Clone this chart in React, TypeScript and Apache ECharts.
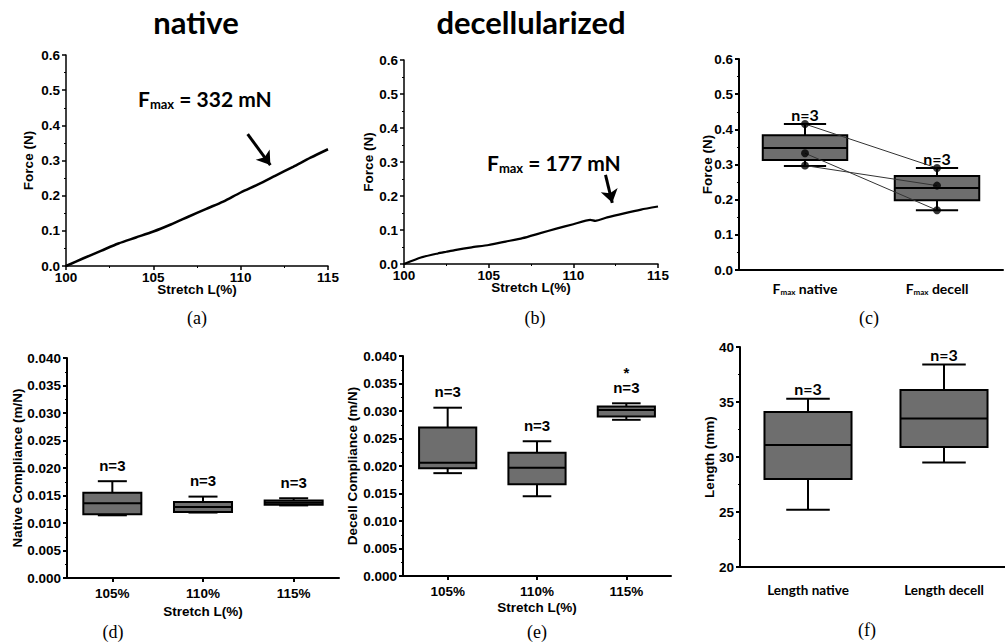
import React, { useEffect, useRef } from 'react';
import * as echarts from 'echarts';

// ---------- data ----------
const stretchA = [100, 101, 102, 103, 104, 105, 106, 107, 108, 109, 110, 111, 112, 113, 114, 115];
const forceA = [0.0, 0.022, 0.043, 0.064, 0.081, 0.098, 0.118, 0.140, 0.162, 0.183, 0.209, 0.232, 0.257, 0.282, 0.308, 0.332];
const stretchB = [100, 101, 102, 102.5, 103, 104, 105, 106, 107, 108, 109, 110, 111, 111.3, 112, 113, 114, 115];
const forceB = [0.0, 0.019, 0.031, 0.036, 0.041, 0.049, 0.056, 0.066, 0.076, 0.090, 0.104, 0.117, 0.130, 0.127, 0.137, 0.149, 0.160, 0.169];
const arrowA = [[110.4, 0.375], [111.7, 0.287]];
const arrowB = [[111.9, 0.262], [112.3, 0.180]];
const fmaxTextA = '332 mN';
const fmaxTextB = '177 mN';

const fmaxCats = ['native', 'decell'];
// [min, Q1, median, Q3, max]
const fmaxBoxes = [
  [0.296, 0.313, 0.347, 0.383, 0.415],
  [0.170, 0.198, 0.233, 0.267, 0.290],
];
const fmaxNative = [0.415, 0.332, 0.297];
const fmaxDecell = [0.290, 0.170, 0.240];
const fmaxN = ['n=3', 'n=3'];

const stretchCats = ['105%', '110%', '115%'];
const nativeCompBoxes = [
  [0.0114, 0.0116, 0.0136, 0.0155, 0.0176],
  [0.0119, 0.0120, 0.0129, 0.0138, 0.0148],
  [0.0132, 0.0133, 0.0137, 0.0141, 0.0145],
];
const nativeCompN = ['n=3', 'n=3', 'n=3'];
const decellCompBoxes = [
  [0.0187, 0.0196, 0.0206, 0.0270, 0.0306],
  [0.0145, 0.0167, 0.0197, 0.0224, 0.0245],
  [0.0284, 0.0290, 0.0302, 0.0308, 0.0314],
];
const decellCompN = ['n=3', 'n=3', 'n=3'];
const decellCompSig = ['', '', '*'];

const lengthCats = ['Length native', 'Length decell'];
const lengthBoxes = [
  [25.2, 28.0, 31.1, 34.1, 35.3],
  [29.5, 30.9, 33.5, 36.1, 38.4],
];
const lengthN = ['n=3', 'n=3'];

// ---------- helpers ----------
const ARIAL = '"Liberation Sans", Arial, sans-serif';
const CALIBRI = 'Lato, Carlito, Calibri, sans-serif';
const SERIF = '"Liberation Serif", "Times New Roman", serif';

function valueAxis(gi: number, min: number, max: number, interval: number, dec: number, name: string, nameGap: number, lw: number, labelMargin: number) {
  return {
    type: 'value', gridIndex: gi, min, max, interval,
    name, nameLocation: 'middle', nameGap, nameMoveOverlap: false,
    nameTextStyle: { fontFamily: ARIAL, fontWeight: 'bold', fontSize: 13.5, color: '#000' },
    axisLine: { show: true, onZero: false, lineStyle: { color: '#000', width: lw } },
    axisTick: { show: true, length: 4, lineStyle: { color: '#000', width: lw } },
    minorTick: { show: true, splitNumber: 2, length: 2, lineStyle: { color: '#000', width: 1 } },
    axisLabel: {
      formatter: (v: number) => v.toFixed(dec),
      fontFamily: ARIAL, fontWeight: 'bold', fontSize: 13.5, color: '#000', margin: labelMargin,
      showMinLabel: true, showMaxLabel: true,
    },
    splitLine: { show: false },
    minorSplitLine: { show: false },
  };
}

function catAxis(gi: number, data: string[], tick: boolean, labelMargin: number, labelCfg: any, name?: string, nameGap?: number) {
  return {
    type: 'category', gridIndex: gi, data, boundaryGap: true,
    name: name || '', nameLocation: 'middle', nameGap: nameGap || 0, nameMoveOverlap: false,
    nameTextStyle: { fontFamily: ARIAL, fontWeight: 'bold', fontSize: 13.5, color: '#000' },
    axisLine: { show: true, lineStyle: { color: '#000', width: 2 } },
    axisTick: { show: tick, alignWithLabel: true, length: 4, lineStyle: { color: '#000', width: 2 } },
    axisLabel: { margin: labelMargin, color: '#000', interval: 0, ...labelCfg },
    splitLine: { show: false },
  };
}

function boxSeries(axisIdx: number, boxes: number[][], nLabels: string[], gap: number, nFont: string, sig?: string[]) {
  const ratio = 0.64;
  return {
    type: 'custom',
    xAxisIndex: axisIdx, yAxisIndex: axisIdx,
    z: 2,
    encode: { x: 0, y: [1, 2, 3, 4, 5] },
    data: boxes.map((b, i) => [i, ...b]),
    renderItem: (params: any, api: any) => {
      const idx = api.value(0);
      const pts = [1, 2, 3, 4, 5].map((k) => api.coord([idx, api.value(k)]));
      const cx = pts[0][0];
      const w = api.size([1, 0])[0] * ratio;
      const yMin = pts[0][1], yQ1 = pts[1][1], yMed = pts[2][1], yQ3 = pts[3][1], yMax = pts[4][1];
      const ls = { stroke: '#000', lineWidth: 2 };
      const children: any[] = [
        { type: 'line', shape: { x1: cx, y1: yMax, x2: cx, y2: yQ3 }, style: ls },
        { type: 'line', shape: { x1: cx, y1: yQ1, x2: cx, y2: yMin }, style: ls },
        { type: 'line', shape: { x1: cx - w / 4, y1: yMax, x2: cx + w / 4, y2: yMax }, style: ls },
        { type: 'line', shape: { x1: cx - w / 4, y1: yMin, x2: cx + w / 4, y2: yMin }, style: ls },
        { type: 'rect', shape: { x: cx - w / 2, y: yQ3, width: w, height: yQ1 - yQ3 }, style: { fill: '#6e6e6e', stroke: '#000', lineWidth: 2 } },
        { type: 'line', shape: { x1: cx - w / 2, y1: yMed, x2: cx + w / 2, y2: yMed }, style: ls },
      ];
      const lab = nLabels[params.dataIndex];
      if (lab) {
        children.push({
          type: 'text', x: cx, y: yMax - gap,
          style: { text: lab, align: 'center', verticalAlign: 'middle', fill: '#000', font: nFont },
        });
      }
      if (sig && sig[params.dataIndex]) {
        children.push({
          type: 'text', x: cx, y: yMax - gap - 10,
          style: { text: sig[params.dataIndex], align: 'center', verticalAlign: 'bottom', lineHeight: 10, fill: '#000', font: nFont },
        });
      }
      return { type: 'group', children };
    },
  };
}

const fmaxRich = {
  f: { fontFamily: CALIBRI, fontWeight: 'bold', fontSize: 21, lineHeight: 24, color: '#000' },
  s: { fontFamily: CALIBRI, fontWeight: 'bold', fontSize: 13, lineHeight: 6, verticalAlign: 'bottom', color: '#000' },
};

export default function App() {
  const ref = useRef<HTMLDivElement>(null);
  useEffect(() => {
    if (!ref.current) return;
    const chart = echarts.init(ref.current, null, { renderer: 'svg' });

    const grids = [
      { left: 66, top: 55, width: 262, height: 211 },
      { left: 404, top: 60, width: 254, height: 204 },
      { left: 739, top: 59, width: 264, height: 211 },
      { left: 67, top: 358, width: 272, height: 220 },
      { left: 403, top: 356, width: 268, height: 220 },
      { left: 740, top: 347, width: 272, height: 220 },
    ].map((g) => ({ ...g, containLabel: false, outerBoundsMode: 'none', show: false }));

    const catRichC = {
      f: { fontFamily: CALIBRI, fontWeight: 'bold', fontSize: 14, lineHeight: 16, color: '#000' },
      s: { fontFamily: CALIBRI, fontWeight: 'bold', fontSize: 8, lineHeight: 5, verticalAlign: 'bottom', color: '#000' },
    };

    const xAxis = [
      valueAxis(0, 100, 115, 5, 0, 'Stretch L(%)', 16, 1.5, 4),
      valueAxis(1, 100, 115, 5, 0, 'Stretch L(%)', 16, 1.5, 4),
      catAxis(2, fmaxCats, false, 10, { formatter: (v: string) => `{f|F}{s|max}{f| ${v}}`, rich: catRichC }),
      catAxis(3, stretchCats, true, 8, { fontFamily: ARIAL, fontWeight: 'bold', fontSize: 13.5 }, 'Stretch L(%)', 26),
      catAxis(4, stretchCats, true, 8, { fontFamily: ARIAL, fontWeight: 'bold', fontSize: 13.5 }, 'Stretch L(%)', 24),
      catAxis(5, lengthCats, false, 16, { fontFamily: CALIBRI, fontWeight: 'bold', fontSize: 13.5 }),
    ];
    const yAxis = [
      valueAxis(0, 0, 0.6, 0.1, 1, 'Force (N)', 31, 1.5, 6),
      valueAxis(1, 0, 0.6, 0.1, 1, 'Force (N)', 29, 1.5, 6),
      valueAxis(2, 0, 0.6, 0.1, 1, 'Force (N)', 25, 2, 6),
      valueAxis(3, 0, 0.04, 0.005, 3, 'Native Compliance (m/N)', 43, 2, 6),
      valueAxis(4, 0, 0.04, 0.005, 3, 'Decell Compliance (m/N)', 44, 2, 6),
      valueAxis(5, 20, 40, 5, 0, 'Length (mm)', 24, 2, 6),
    ];

    const arrowMark = (pts: number[][]) => ({
      silent: true,
      symbol: ['none', 'arrow'],
      symbolSize: 13,
      lineStyle: { color: '#000', width: 3, type: 'solid' },
      itemStyle: { color: '#000' },
      label: { show: false },
      emphasis: { disabled: true },
      data: [[{ coord: pts[0] }, { coord: pts[1] }]],
    });

    const series: any[] = [
      {
        type: 'line', xAxisIndex: 0, yAxisIndex: 0,
        data: stretchA.map((x, i) => [x, forceA[i]]),
        showSymbol: false, smooth: 0.3,
        lineStyle: { color: '#000', width: 2.5 },
        markLine: arrowMark(arrowA),
      },
      {
        type: 'line', xAxisIndex: 1, yAxisIndex: 1,
        data: stretchB.map((x, i) => [x, forceB[i]]),
        showSymbol: false, smooth: 0.2,
        lineStyle: { color: '#000', width: 2.2 },
        markLine: arrowMark(arrowB),
      },
      boxSeries(2, fmaxBoxes, fmaxN, 10, `bold 16px ${CALIBRI}`),
      ...fmaxNative.map((v, i) => ({
        type: 'line', xAxisIndex: 2, yAxisIndex: 2, z: 3,
        data: [v, fmaxDecell[i]],
        showSymbol: false,
        lineStyle: { color: '#333', width: 1 },
      })),
      {
        type: 'scatter', xAxisIndex: 2, yAxisIndex: 2, z: 4,
        symbol: 'circle', symbolSize: 8,
        itemStyle: { color: '#000' },
        data: [...fmaxNative.map((v) => [0, v]), ...fmaxDecell.map((v) => [1, v])],
      },
      boxSeries(3, nativeCompBoxes, nativeCompN, 16, `bold 15px ${ARIAL}`),
      boxSeries(4, decellCompBoxes, decellCompN, 16, `bold 15px ${ARIAL}`, decellCompSig),
      boxSeries(5, lengthBoxes, lengthN, 10, `bold 16px ${CALIBRI}`),
    ];

    const titleFont = { fontFamily: CALIBRI, fontWeight: 'bold', fontSize: 31, fill: '#000' };
    const panelFont = { fontFamily: SERIF, fontSize: 18, fill: '#000' };
    const txt = (text: string, x: number, y: number, style: any) => ({
      type: 'text', x, y, silent: true,
      style: { text, align: 'center', verticalAlign: 'middle', ...style },
    });

    const graphic = [
      txt('native', 196, 22, titleFont),
      txt('decellularized', 531, 22, titleFont),
      { type: 'text', x: 138, y: 98, silent: true, style: { text: `{f|F}{s|max}{f| = ${fmaxTextA}}`, rich: fmaxRich, align: 'left', verticalAlign: 'middle' } },
      { type: 'text', x: 487, y: 162, silent: true, style: { text: `{f|F}{s|max}{f| = ${fmaxTextB}}`, rich: fmaxRich, align: 'left', verticalAlign: 'middle' } },
      txt('(a)', 197, 318, panelFont),
      txt('(b)', 535, 318, panelFont),
      txt('(c)', 869, 318, panelFont),
      txt('(d)', 113, 632, panelFont),
      txt('(e)', 537, 632, panelFont),
      txt('(f)', 867, 630, panelFont),
    ];

    chart.setOption({
      animation: false,
      backgroundColor: '#fff',
      grid: grids,
      xAxis,
      yAxis,
      series,
      graphic,
    });
    return () => chart.dispose();
  }, []);
  return (
    <div
      ref={ref}
      style={{ position: 'fixed', left: 0, top: 0, width: 1005, height: 643, background: '#fff' }}
    />
  );
}
